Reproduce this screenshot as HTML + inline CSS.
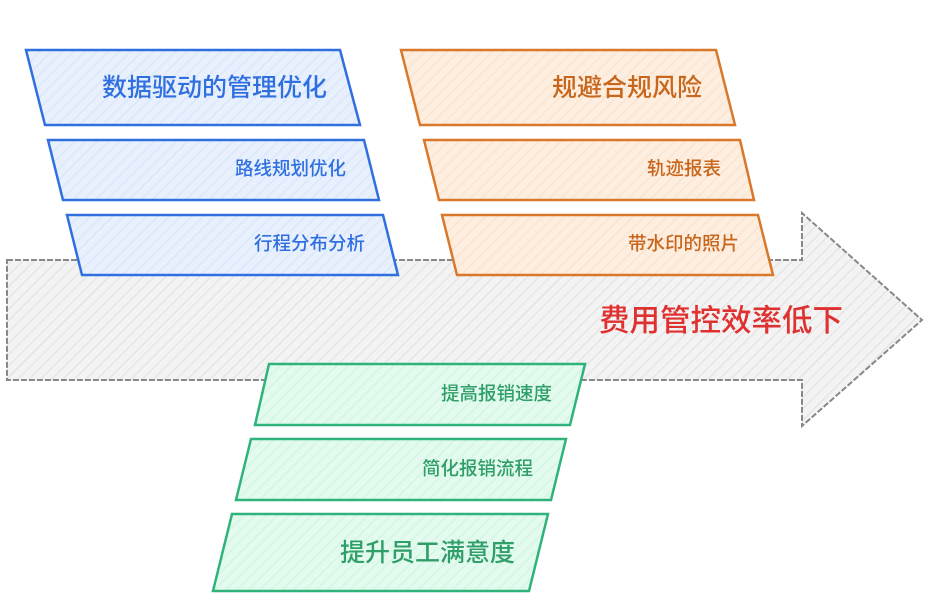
<!DOCTYPE html>
<html><head><meta charset="utf-8"><style>
html,body{margin:0;padding:0;background:#fff;}
svg text{font-family:"Liberation Sans","Noto Sans CJK SC",sans-serif;font-weight:500;}
</style></head><body>
<svg width="935" height="611" xmlns="http://www.w3.org/2000/svg">
<defs>
<pattern id="hg" width="8" height="8" patternUnits="userSpaceOnUse" patternTransform="rotate(45)"><rect width="8" height="8" fill="#f3f3f3"/><line x1="0" y1="0" x2="0" y2="8" stroke="#e6e6e6" stroke-width="3"/></pattern>
<pattern id="hb" width="8" height="8" patternUnits="userSpaceOnUse" patternTransform="rotate(45)"><rect width="8" height="8" fill="#e8f0fd"/><line x1="0" y1="0" x2="0" y2="8" stroke="#dbe7fb" stroke-width="3"/></pattern>
<pattern id="ho" width="8" height="8" patternUnits="userSpaceOnUse" patternTransform="rotate(45)"><rect width="8" height="8" fill="#fdeee0"/><line x1="0" y1="0" x2="0" y2="8" stroke="#fbe4d0" stroke-width="3"/></pattern>
<pattern id="hgr" width="8" height="8" patternUnits="userSpaceOnUse" patternTransform="rotate(45)"><rect width="8" height="8" fill="#e3fbee"/><line x1="0" y1="0" x2="0" y2="8" stroke="#d3f6e3" stroke-width="3"/></pattern>
</defs>
<polygon points="7,260 802,260 802,213 922,320 802,426 802,380 7,380" fill="url(#hg)" stroke="#888" stroke-width="2" stroke-dasharray="6,2"/>
<text x="843" y="331" font-size="30.5" fill="#e03131" text-anchor="end">费用管控效率低下</text>
<g stroke="#2f6fdf" stroke-width="2.5" fill="url(#hb)">
<polygon points="26,50 340,50 360,125 45,125"/>
<polygon points="48,140 364,140 379,200 63,200"/>
<polygon points="67,215 383,215 398,275 82,275"/>
</g>
<g fill="#2f6fdf" text-anchor="end">
<text x="327" y="96" font-size="25">数据驱动的管理优化</text>
<text x="346" y="175" font-size="18.5">路线规划优化</text>
<text x="365" y="250" font-size="18.5">行程分布分析</text>
</g>
<g stroke="#d9782a" stroke-width="2.5" fill="url(#ho)">
<polygon points="401,50 716,50 735,125 420,125"/>
<polygon points="424,140 740,140 754,200 439,200"/>
<polygon points="442,215 758,215 773,275 457,275"/>
</g>
<g fill="#c8661c" text-anchor="end">
<text x="702" y="96" font-size="25">规避合规风险</text>
<text x="721" y="175" font-size="18.5">轨迹报表</text>
<text x="739" y="250" font-size="18.5">带水印的照片</text>
</g>
<g stroke="#2fb37a" stroke-width="2.5" fill="url(#hgr)">
<polygon points="269,364 585,364 570,425 255,425"/>
<polygon points="251,439 566,439 551,500 236,500"/>
<polygon points="232,514 548,514 529,591 213,591"/>
</g>
<g fill="#2f9e68" text-anchor="end">
<text x="552" y="400" font-size="18.5">提高报销速度</text>
<text x="533" y="475" font-size="18.5">简化报销流程</text>
<text x="515" y="561" font-size="25">提升员工满意度</text>
</g>
</svg>
</body></html>
